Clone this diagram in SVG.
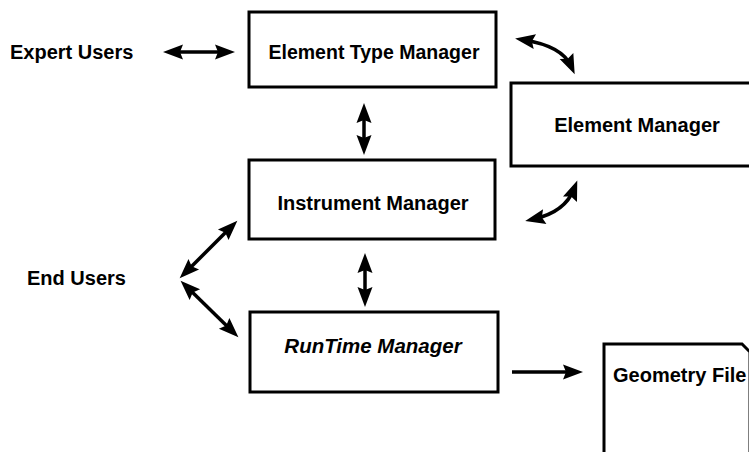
<svg xmlns="http://www.w3.org/2000/svg" width="749" height="452" viewBox="0 0 749 452">
  <style>
    .box { fill: #fff; stroke: #000; stroke-width: 3; }
    .lbl { font-family: "Liberation Sans", Arial, Helvetica, sans-serif; font-weight: bold; font-size: 20px; fill: #000; }
    .mid { text-anchor: middle; }
    .it { font-style: italic; font-size: 20.5px; }
    .link { fill: none; stroke: #000; stroke-width: 3.5; }
  </style>
  <defs>
    <!-- solid pointed head; tip sits 9 units beyond the path end -->
    <marker id="head" viewBox="-21 -8 22 16" refX="-9" refY="0" markerWidth="22" markerHeight="16" markerUnits="userSpaceOnUse" orient="auto-start-reverse">
      <path d="M0,0 L-20,-7.5 L-17,0 L-20,7.5 Z" fill="#000"/>
    </marker>
  </defs>

  <rect width="749" height="452" fill="#fff"/>

  <g id="expert-users">
    <text class="lbl" x="10" y="59">Expert Users</text>
  </g>
  <g id="end-users">
    <text class="lbl" x="27" y="285">End Users</text>
  </g>

  <g id="element-type-manager">
    <rect class="box" x="249" y="12" width="247" height="75"/>
    <text class="lbl mid" x="374" y="59" style="font-size:19.5px">Element Type Manager</text>
  </g>

  <g id="element-manager">
    <rect class="box" x="511" y="83" width="245" height="83"/>
    <text class="lbl mid" x="637" y="132">Element Manager</text>
  </g>

  <g id="instrument-manager">
    <rect class="box" x="249" y="160" width="246" height="79"/>
    <text class="lbl mid" x="373" y="210">Instrument Manager</text>
  </g>

  <g id="runtime-manager">
    <rect class="box" x="250" y="312" width="248" height="80"/>
    <text class="lbl mid it" x="373" y="353">RunTime Manager</text>
  </g>

  <g id="geometry-file">
    <path class="box" d="M604,456 V344 H742 L750,352 V456 Z"/>
    <text class="lbl" x="613" y="382">Geometry File</text>
  </g>

  <g id="connectors">
    <path class="link" d="M172,52 H226" marker-start="url(#head)" marker-end="url(#head)"/>
    <path class="link" d="M364,112 V146" marker-start="url(#head)" marker-end="url(#head)"/>
    <path class="link" d="M365,262 V298" marker-start="url(#head)" marker-end="url(#head)"/>
    <path class="link" d="M186,272 L231,227" marker-start="url(#head)" marker-end="url(#head)"/>
    <path class="link" d="M187,287 L232,331" marker-start="url(#head)" marker-end="url(#head)"/>
    <path class="link" d="M524,40 Q562,46 571,66" marker-start="url(#head)" marker-end="url(#head)"/>
    <path class="link" d="M574,189 Q565,212 534,219" marker-start="url(#head)" marker-end="url(#head)"/>
    <path class="link" d="M512,372 H574" marker-end="url(#head)"/>
  </g>
</svg>
